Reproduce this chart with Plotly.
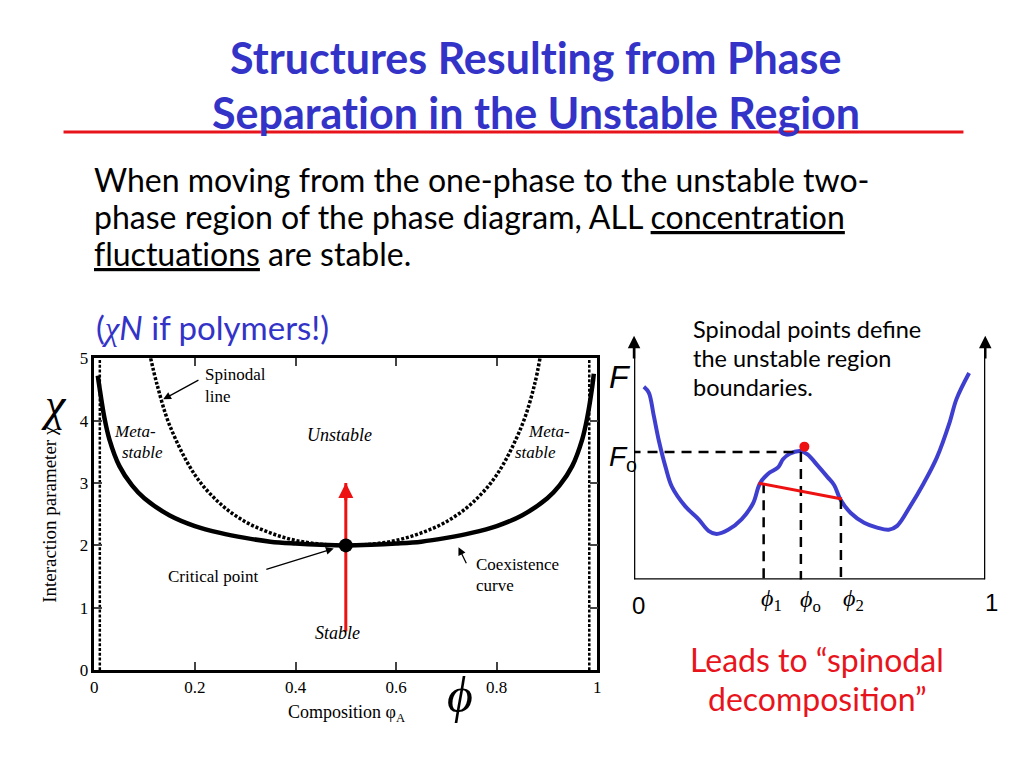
import plotly.graph_objects as go

W, H = 1024, 768
def px(x): return x / W
def py(y): return 1 - y / H

# ---------------- data ----------------
phi_coex = [0.007, 0.01, 0.02, 0.03, 0.05, 0.075, 0.1, 0.15, 0.2, 0.25, 0.3, 0.35, 0.4, 0.45, 0.5,
            0.55, 0.6, 0.65, 0.7, 0.75, 0.8, 0.85, 0.9, 0.925, 0.95, 0.97, 0.98, 0.99, 0.993]
chi_coex = [4.72, 4.55, 4.05, 3.70, 3.27, 2.96, 2.75, 2.48, 2.31, 2.20, 2.12, 2.06, 2.03, 2.01, 2.00,
            2.01, 2.03, 2.06, 2.12, 2.20, 2.31, 2.48, 2.75, 2.96, 3.27, 3.70, 4.05, 4.55, 4.75]
phi_spin = [0.112, 0.125, 0.15, 0.2, 0.25, 0.3, 0.35, 0.4, 0.45, 0.5,
            0.55, 0.6, 0.65, 0.7, 0.75, 0.8, 0.85, 0.875, 0.886]
chi_spin = [5.0, 4.57, 3.92, 3.13, 2.67, 2.38, 2.20, 2.08, 2.02, 2.00,
            2.02, 2.08, 2.20, 2.38, 2.67, 3.13, 3.92, 4.57, 5.0]
phi_edge = [0.011, 0.984]
chi_edge = [0, 5]
crit_phi, crit_chi = [0.5], [2.0]
quench_phi = [0.5]
quench_chi = [0.62, 3.0]
x_ticks = [0, 0.2, 0.4, 0.6, 0.8, 1]
x_ticktext = ["0", "0.2", "0.4", "0.6", "0.8", "1"]
y_ticks = [0, 1, 2, 3, 4, 5]

phi_F = [0.028, 0.042, 0.056, 0.071, 0.090, 0.108, 0.146, 0.184, 0.212, 0.235, 0.268, 0.306,
         0.339, 0.358, 0.381, 0.410, 0.424, 0.443, 0.475, 0.494, 0.523, 0.551, 0.570, 0.588,
         0.617, 0.655, 0.692, 0.725, 0.749, 0.786, 0.824, 0.862, 0.899, 0.918, 0.954]
F_vals = [0.791, 0.767, 0.673, 0.567, 0.460, 0.380, 0.300, 0.247, 0.200, 0.187, 0.204, 0.247,
          0.313, 0.393, 0.433, 0.460, 0.493, 0.516, 0.527, 0.513, 0.467, 0.420, 0.387, 0.327,
          0.273, 0.233, 0.213, 0.204, 0.220, 0.300, 0.393, 0.500, 0.647, 0.740, 0.847]
phi_1, phi_o, phi_2 = 0.369, 0.475, 0.589
F_o = 0.523
chord_phi = [0.355, 0.592]
chord_F = [0.395, 0.330]
peak_phi, peak_F = [0.485], [0.545]

# ---------------- figure ----------------
fig = go.Figure()
LX = [px(91), px(598)]
LY = [py(678), py(358)]
RX = [px(635), px(989)]
RY = [py(585), py(335)]

DOTS = "3px,1.8px"
fig.add_trace(go.Scatter(x=phi_edge[:1] * 2, y=chi_edge, mode="lines",
                         line=dict(color="black", width=2.5, dash=DOTS), xaxis="x", yaxis="y"))
fig.add_trace(go.Scatter(x=phi_edge[1:] * 2, y=chi_edge, mode="lines",
                         line=dict(color="black", width=2.5, dash=DOTS), xaxis="x", yaxis="y"))
fig.add_trace(go.Scatter(x=phi_spin, y=chi_spin, mode="lines", line_shape="spline",
                         line=dict(color="black", width=3.5, dash=DOTS), xaxis="x", yaxis="y"))
fig.add_trace(go.Scatter(x=phi_coex, y=chi_coex, mode="lines", line_shape="spline",
                         line=dict(color="black", width=4.5), xaxis="x", yaxis="y"))
fig.add_trace(go.Scatter(x=quench_phi * 2, y=quench_chi, mode="lines",
                         line=dict(color="#ee1111", width=3), xaxis="x", yaxis="y"))
fig.add_trace(go.Scatter(x=crit_phi, y=crit_chi, mode="markers",
                         marker=dict(color="black", size=14), xaxis="x", yaxis="y"))

fig.add_trace(go.Scatter(x=phi_F, y=F_vals, mode="lines", line_shape="spline",
                         line=dict(color="#3f3fcf", width=4), xaxis="x2", yaxis="y2"))
DASH = "10px,7px"
fig.add_trace(go.Scatter(x=[-0.01, phi_o], y=[F_o, F_o], mode="lines",
                         line=dict(color="black", width=2.5, dash=DASH), xaxis="x2", yaxis="y2"))
fig.add_trace(go.Scatter(x=[phi_o, phi_o], y=[F_o, -0.05], mode="lines",
                         line=dict(color="black", width=2.5, dash=DASH), xaxis="x2", yaxis="y2"))
fig.add_trace(go.Scatter(x=[phi_1, phi_1], y=[chord_F[0], -0.05], mode="lines",
                         line=dict(color="black", width=2.5, dash=DASH), xaxis="x2", yaxis="y2"))
fig.add_trace(go.Scatter(x=[phi_2, phi_2], y=[chord_F[1], -0.05], mode="lines",
                         line=dict(color="black", width=2.5, dash=DASH), xaxis="x2", yaxis="y2"))
fig.add_trace(go.Scatter(x=chord_phi, y=chord_F, mode="lines",
                         line=dict(color="#ee1111", width=3), xaxis="x2", yaxis="y2"))
fig.add_trace(go.Scatter(x=peak_phi, y=peak_F, mode="markers",
                         marker=dict(color="#ee1111", size=10), xaxis="x2", yaxis="y2"))

serif = "Liberation Serif"
sans = "Lato"
TITLE_BLUE = "#3333c8"
RED = "#e8141c"

fig.update_layout(
    width=W, height=H, margin=dict(l=0, r=0, t=0, b=0),
    paper_bgcolor="white", plot_bgcolor="rgba(0,0,0,0)", showlegend=False,
    xaxis=dict(domain=LX, range=[0, 1], tickvals=x_ticks, ticktext=x_ticktext,
               ticks="inside", ticklen=8, tickwidth=2, showline=True, linewidth=2.5,
               linecolor="black", mirror="ticks", showgrid=False, zeroline=False,
               tickfont=dict(family=serif, size=17, color="black")),
    yaxis=dict(domain=LY, range=[0, 5], tickvals=y_ticks,
               ticks="inside", ticklen=8, tickwidth=2, showline=True, linewidth=2.5,
               linecolor="black", mirror="ticks", showgrid=False, zeroline=False,
               tickfont=dict(family=serif, size=17, color="black")),
    xaxis2=dict(domain=RX, range=[0, 1], visible=False),
    yaxis2=dict(domain=RY, range=[0, 1], visible=False, anchor="x2"),
)

shapes = [
    dict(type="line", xref="paper", yref="paper", x0=px(60), x1=px(967), y0=py(126), y1=py(126),
         line=dict(color=RED, width=3)),
    dict(type="line", xref="x2", yref="y2", x0=0, x1=0, y0=0, y1=0.97, line=dict(color="black", width=2.5)),
    dict(type="line", xref="x2", yref="y2", x0=1, x1=1, y0=0, y1=0.97, line=dict(color="black", width=2.5)),
    dict(type="line", xref="x2", yref="y2", x0=0, x1=1, y0=0, y1=0, line=dict(color="black", width=2.5)),
]
fig.update_layout(shapes=shapes)

NOLIG = "<span style='font-variant-ligatures:none'>{}</span>"

ann = []
def txt(x, y, s, size, family=sans, color="black", xa="left", ya="middle", align="left", angle=0):
    ann.append(dict(x=px(x), y=py(y), xref="paper", yref="paper", text=s, showarrow=False,
                    font=dict(family=family, size=size, color=color), xanchor=xa, yanchor=ya,
                    align=align, textangle=angle))

txt(536, 50, "<b>" + NOLIG.format("Structures Resulting from Phase") + "</b>", 43,
    color=TITLE_BLUE, xa="center")
txt(536, 106, "<b>" + NOLIG.format("Separation in the Unstable Region") + "</b>", 43,
    color=TITLE_BLUE, xa="center")
txt(89, 175, "When moving from the one-phase to the unstable two-", 32)
txt(89, 213, "phase region of the phase diagram, ALL <u>" + NOLIG.format("concentration") + "</u>", 32)
txt(89, 251, "<u>" + NOLIG.format("fluctuations") + "</u> are stable.", 32)
txt(91, 326, "(<i><span style='font-family:Liberation Serif'>χ</span>N</i> if polymers!)", 33, color=TITLE_BLUE)
txt(692, 328, "Spinodal points define", 23.5)
txt(692, 358, "the unstable region", 23.5)
txt(692, 388, "boundaries.", 23.5)
txt(819, 667, "Leads to “spinodal", 32, color=RED, xa="center")
txt(820, 707, "decomposition”", 32, color=RED, xa="center")

txt(50, 406, "<i>χ</i>", 46, family=serif, xa="center")
txt(460, 703, "<i>ϕ</i>", 50, family=serif, xa="center")
txt(46, 518, "Interaction parameter χ", 19, family=serif, xa="center", angle=-90)
txt(345, 722, "Composition φ<sub>A</sub>", 18, family=serif, xa="center")
txt(201, 375, "Spinodal", 17, family=serif)
txt(201, 397, "line", 17, family=serif)
txt(109, 433, "<i>Meta-</i>", 17, family=serif)
txt(117, 455, "<i>stable</i>", 17, family=serif)
txt(526, 433, "<i>Meta-</i>", 17, family=serif)
txt(513, 455, "<i>stable</i>", 17, family=serif)
txt(338, 437, "<i>Unstable</i>", 18, family=serif, xa="center")
txt(211, 582, "Critical point", 17, family=serif, xa="center")
txt(474, 570, "Coexistence", 17, family=serif)
txt(474, 591, "curve", 17, family=serif)
txt(336, 640, "<i>Stable</i>", 18, family=serif, xa="center")

txt(621, 377, "<i>F</i>", 32, family="Liberation Sans", xa="center")
txt(624, 461, "<i>F</i><sub>o</sub>", 28, family="Liberation Sans", xa="center")
txt(774, 606, "<i>ϕ</i><sub>1</sub>", 24, family=serif, xa="center")
txt(813, 607, "<i>ϕ</i><sub>o</sub>", 24, family=serif, xa="center")
txt(856, 606, "<i>ϕ</i><sub>2</sub>", 24, family=serif, xa="center")
txt(639, 612, "0", 24, family="Liberation Sans", xa="center")
txt(995, 609, "1", 24, family="Liberation Sans", xa="center")

def arrow(xr, yr, x, y, ax, ay, color="black", width=1.3, head=2, size=1.2):
    ann.append(dict(x=x, y=y, ax=ax, ay=ay, xref=xr, yref=yr, axref=xr, ayref=yr, text="",
                    showarrow=True, arrowhead=head, arrowwidth=width, arrowsize=size,
                    arrowcolor=color))

arrow("x", "y", 0.137, 4.34, 0.210, 4.66)
arrow("x", "y", 0.476, 1.95, 0.339, 1.61)
arrow("x", "y", 0.724, 1.97, 0.741, 1.69)
arrow("x", "y", quench_phi[0], quench_chi[1], quench_phi[0], quench_chi[1] - 0.3,
      color="#ee1111", width=3, head=2, size=1)
arrow("x2", "y2", 0, 1.0, 0, 0.9, width=2.5, head=2, size=1)
arrow("x2", "y2", 1, 1.0, 1, 0.9, width=2.5, head=2, size=1)

fig.update_layout(annotations=ann)
POST = ("var h=document.documentElement,b=document.body;"
        "h.style.margin='0';h.style.padding='0';h.style.overflow='hidden';h.style.height='768px';"
        "b.style.margin='0';b.style.padding='0';b.style.overflow='hidden';b.style.height='768px';")
fig.write_html("out.html", config={"displayModeBar": False}, post_script=POST)
